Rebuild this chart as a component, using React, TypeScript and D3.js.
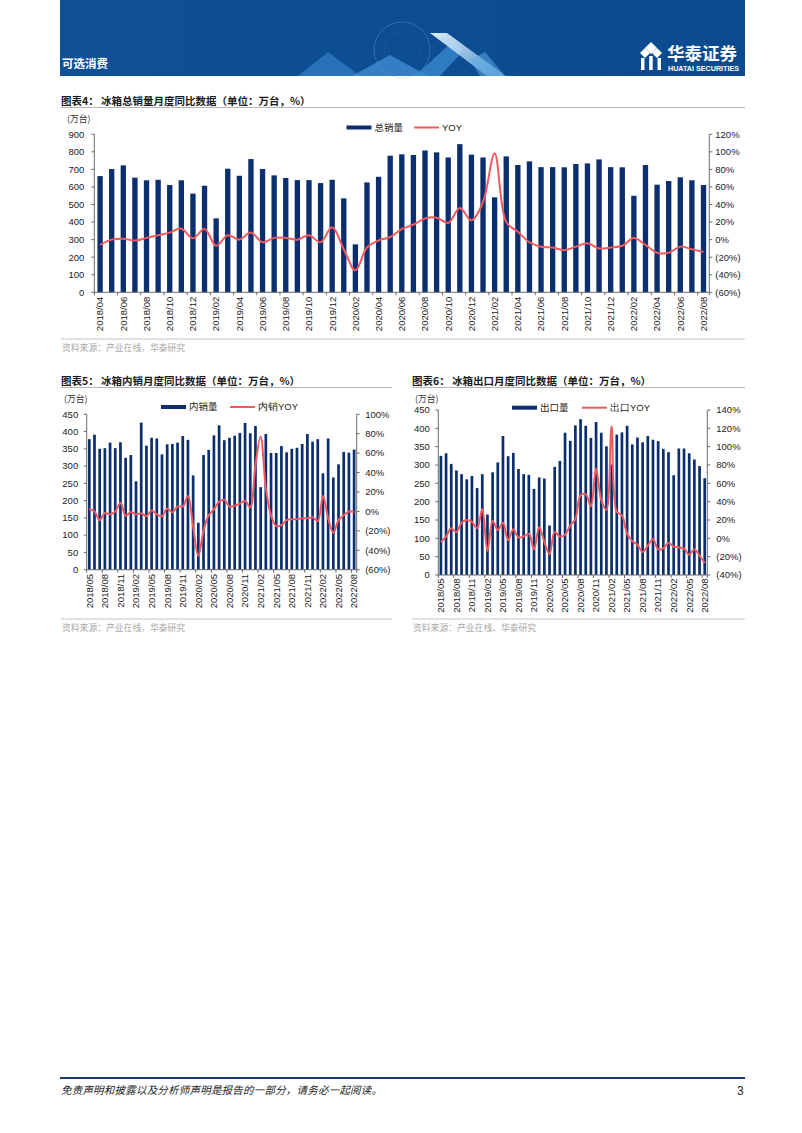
import React from "react";
import * as d3 from "d3";

// ---------- DATA ----------
const totalMonths = [
  "2018/04","2018/05","2018/06","2018/07","2018/08","2018/09","2018/10","2018/11","2018/12",
  "2019/01","2019/02","2019/03","2019/04","2019/05","2019/06","2019/07","2019/08","2019/09","2019/10","2019/11","2019/12",
  "2020/01","2020/02","2020/03","2020/04","2020/05","2020/06","2020/07","2020/08","2020/09","2020/10","2020/11","2020/12",
  "2021/01","2021/02","2021/03","2021/04","2021/05","2021/06","2021/07","2021/08","2021/09","2021/10","2021/11","2021/12",
  "2022/01","2022/02","2022/03","2022/04","2022/05","2022/06","2022/07","2022/08",
];
const totalSales = [
  662,702,723,653,638,641,611,638,562,607,421,704,664,759,702,666,651,639,639,622,
  641,535,273,626,658,778,786,782,808,797,768,844,784,768,541,774,725,746,713,713,
  712,731,734,757,713,712,550,725,613,634,655,638,611,
];
const totalYoy = [
  -6,0,1,-1,2,5,8,12.5,1.5,12,-7,5,
  0,8,-3,2,2,0,5,-3,14,-11,-35,-9,-1,
  3,12,17,24,25,19,36,22,43,98,20,9,-3,-8,-9,-12,-8,-4,-10,-9,-7,2,-6,-15,-15,-8,-11,-14,
];
const totalLeftTicks = [0,100,200,300,400,500,600,700,800,900];
const totalRightTicks = [-60,-40,-20,0,20,40,60,80,100,120];

const months52 = [
  "2018/05","2018/06","2018/07","2018/08","2018/09","2018/10","2018/11","2018/12",
  "2019/01","2019/02","2019/03","2019/04","2019/05","2019/06","2019/07","2019/08","2019/09","2019/10","2019/11","2019/12",
  "2020/01","2020/02","2020/03","2020/04","2020/05","2020/06","2020/07","2020/08","2020/09","2020/10","2020/11","2020/12",
  "2021/01","2021/02","2021/03","2021/04","2021/05","2021/06","2021/07","2021/08","2021/09","2021/10","2021/11","2021/12",
  "2022/01","2022/02","2022/03","2022/04","2022/05","2022/06","2022/07","2022/08",
];
const domesticSales = [
  378,391,350,352,368,352,369,324,332,256,426,359,382,380,334,363,364,368,387,376,
  273,136,332,347,389,418,375,382,388,396,425,395,416,239,393,338,338,358,340,350,
  353,364,393,371,378,279,380,267,305,341,339,348,
];
const domesticYoy = [
  2.5,0,-9,-1.5,-3,0,9,-4.5,-0.5,-3,-2,-5,
  1,-3,-5,3,-1,5,5,16,-16,-46,-20,-4,
  2,10,12,5,6,8,11,4,48,77,24,-4,-15,-14,-9,-8,-8,-7,-7,-6,-10,16,-7,-22,-9,-4,0,-1,
];
const exportSales = [
  325,332,303,285,275,261,270,237,275,165,280,307,379,324,333,289,275,273,235,266,
  263,135,295,311,388,366,408,425,407,374,417,388,351,301,383,389,407,356,375,362,
  379,369,365,344,335,272,345,345,332,315,297,264,
];
const exportYoy = [
  -4,2,11,7,17,20,18,11,32,-14,19,9,17,-2,10,1,2,5,-12,12,
  -4,-17,7,2,4,14,21,47,48,35,76,42,31,122,29,25,5,-3,-7,-15,
  -8,-1,-12,-11,-5,-9,-10,-11,-18,-12,-19,-27,
];
const leftTicks450 = [0,50,100,150,200,250,300,350,400,450];
const domesticRightTicks = [-60,-40,-20,0,20,40,60,80,100];
const exportRightTicks = [-40,-20,0,20,40,60,80,100,120,140];

// ---------- STYLE ----------
const NAVY = "#0b2e6e";
const RED = "#f25a5e";
const CJK = "'Noto Sans CJK SC', 'Noto Sans', sans-serif";
const LAT = "'Liberation Sans', Arial, sans-serif";
const AXIS = "#6b6b6b";

type ChartProps = {
  categories: string[];
  bars: number[];
  yoy: number[];
  leftTicks: number[];
  rightTicks: number[];
  x0: number; x1: number; yTop: number; yBottom: number;
  labelEvery: number; barRatio: number;
  barLegend: string; lineLegend: string;
  legendBarX: number; legendLineX: number; legendY: number;
  leftGap: number; rightGap: number; xLabelGap: number;
};

function fmtPct(v: number) {
  return v < 0 ? `(${-v}%)` : `${v}%`;
}

function ComboChart(p: ChartProps) {
  const x = d3.scaleBand<string>().domain(p.categories).range([p.x0, p.x1]);
  const bw = x.bandwidth();
  const yL = d3.scaleLinear().domain(d3.extent(p.leftTicks) as [number, number]).range([p.yBottom, p.yTop]);
  const yR = d3.scaleLinear().domain(d3.extent(p.rightTicks) as [number, number]).range([p.yBottom, p.yTop]);
  const cx = (c: string) => (x(c) as number) + bw / 2;
  const line = d3
    .line<number>()
    .x((_, i) => cx(p.categories[i]))
    .y((v) => yR(v))
    .curve(d3.curveCatmullRom.alpha(0.5));
  const barW = bw * p.barRatio;
  const boundaries: number[] = [];
  for (let k = 0; k < p.categories.length; k += p.labelEvery) boundaries.push(p.x0 + k * bw);
  boundaries.push(p.x1);

  return (
    <g>
      {/* bars */}
      {p.bars.map((v, i) => {
        const c = p.categories[i];
        return (
          <rect key={c} x={cx(c) - barW / 2} y={yL(v)} width={barW} height={p.yBottom - yL(v)} fill={NAVY} />
        );
      })}
      {/* axes */}
      <line x1={p.x0} x2={p.x0} y1={p.yTop} y2={p.yBottom} stroke={AXIS} strokeWidth={1} />
      <line x1={p.x1} x2={p.x1} y1={p.yTop} y2={p.yBottom} stroke={AXIS} strokeWidth={1} />
      <line x1={p.x0} x2={p.x1} y1={p.yBottom} y2={p.yBottom} stroke={AXIS} strokeWidth={1} />
      {p.leftTicks.map((t) => (
        <g key={"l" + t}>
          <line x1={p.x0 - 3} x2={p.x0} y1={yL(t)} y2={yL(t)} stroke={AXIS} />
          <text x={p.x0 - p.leftGap} y={yL(t)} dy="0.35em" textAnchor="end" fontFamily={LAT} fontSize={9.5} fill="#222">
            {t}
          </text>
        </g>
      ))}
      {p.rightTicks.map((t) => (
        <g key={"r" + t}>
          <line x1={p.x1} x2={p.x1 + 3} y1={yR(t)} y2={yR(t)} stroke={AXIS} />
          <text x={p.x1 + p.rightGap} y={yR(t)} dy="0.35em" textAnchor="start" fontFamily={LAT} fontSize={9.5} fill="#222">
            {fmtPct(t)}
          </text>
        </g>
      ))}
      {boundaries.map((b, i) => (
        <line key={"b" + i} x1={b} x2={b} y1={p.yBottom} y2={p.yBottom + 3} stroke={AXIS} />
      ))}
      {p.categories.map((c, i) =>
        i % p.labelEvery === 0 ? (
          <text
            key={"x" + c}
            transform={`translate(${cx(c)},${p.yBottom + p.xLabelGap}) rotate(-90)`}
            textAnchor="end"
            dy="0.35em"
            fontFamily={LAT}
            fontSize={9.5}
            fill="#222"
          >
            {c}
          </text>
        ) : null
      )}
      {/* line */}
      <path d={line(p.yoy) || ""} fill="none" stroke={RED} strokeWidth={2} strokeLinejoin="round" />
      {/* legend */}
      <rect x={p.legendBarX} y={p.legendY - 2} width={25} height={4} fill={NAVY} />
      <text x={p.legendBarX + 28} y={p.legendY} dy="0.35em" fontFamily={CJK} fontSize={9.5} fill="#222">
        {p.barLegend}
      </text>
      <line x1={p.legendLineX} x2={p.legendLineX + 25} y1={p.legendY} y2={p.legendY} stroke={RED} strokeWidth={2} />
      <text x={p.legendLineX + 28} y={p.legendY} dy="0.35em" fontFamily={LAT} fontSize={9.5} fill="#222">
        {p.lineLegend.replace("YOY", "")}
        <tspan fontFamily={LAT}>YOY</tspan>
      </text>
    </g>
  );
}

function Title({ x, y, num, body, lineX2 }: { x: number; y: number; num: string; body: string; lineX2: number }) {
  return (
    <g>
      <text x={x} y={y} fontFamily={CJK} fontWeight={700} fontSize={10.5} fill="#1a1a1a">
        {`图表${num}：`}
      </text>
      <text x={x + 40} y={y} fontFamily={CJK} fontWeight={700} fontSize={10.5} fill="#1a1a1a">
        {body}
      </text>
      <line x1={x} x2={lineX2} y1={y + 2.5} y2={y + 2.5} stroke="#b5b5b5" strokeWidth={1} />
    </g>
  );
}

function Source({ x, y, x2 }: { x: number; y: number; x2: number }) {
  return (
    <g>
      <line x1={x} x2={x2} y1={y} y2={y} stroke="#c4c4c4" strokeWidth={1} />
      <text x={x + 1} y={y + 12} fontFamily={CJK} fontSize={8.8} fill="#a8a8a8">
        资料来源：产业在线、华泰研究
      </text>
    </g>
  );
}

function Header() {
  return (
    <g>
      <defs>
        <linearGradient id="bannerGrad" x1="0" x2="1" y1="0" y2="0">
          <stop offset="0" stopColor="#0f5096" />
          <stop offset="1" stopColor="#0b4a8e" />
        </linearGradient>
        <linearGradient id="stripeGrad" x1="0" x2="1" y1="0" y2="1">
          <stop offset="0" stopColor="#e8f4fd" stopOpacity={0.95} />
          <stop offset="1" stopColor="#7fc0f0" stopOpacity={0.6} />
        </linearGradient>
      </defs>
      <rect x={60} y={0} width={685} height={76} fill="url(#bannerGrad)" />
      {/* decorative mountains */}
      <circle cx={402} cy={50} r={28} fill="none" stroke="#7cb8e8" strokeOpacity={0.3} />
      <circle cx={402} cy={50} r={18} fill="none" stroke="#7cb8e8" strokeOpacity={0.2} strokeDasharray="1 2" />
      <polygon points="298,76 328,52 360,76" fill="#3c8fd8" fillOpacity={0.55} />
      <polygon points="352,76 390,55 428,76" fill="#4ea2e6" fillOpacity={0.6} />
      <polygon points="415,76 452,42 464,50 440,76" fill="#3b8bd2" fillOpacity={0.75} />
      <polygon points="430,33 447,33 506,76 487,76" fill="url(#stripeGrad)" />
      <polygon points="470,60 485,52 505,76 480,76" fill="#5eaeea" fillOpacity={0.5} />
      <text x={62} y={67.5} fontFamily={CJK} fontWeight={700} fontSize={11.5} fill="#fff">
        可选消费
      </text>
      {/* logo */}
      <g fill="#fff">
        <polygon points="645,48 651,42 657,48 651,54" />
        <polygon points="640,53 645,48 650,53 645,58" />
        <polygon points="652,53 657,48 662,53 657,58" />
        <rect x={641} y={58} width={3.5} height={12} />
        <rect x={649.2} y={56} width={3.5} height={14} />
        <rect x={657.5} y={58} width={3.5} height={12} />
      </g>
      <text x={667} y={60} fontFamily={CJK} fontWeight={700} fontSize={17.5} fill="#fff">
        华泰证券
      </text>
      <text x={668} y={70.5} fontFamily={LAT} fontWeight={700} fontSize={6.4} fill="#fff" textLength={71} lengthAdjust="spacingAndGlyphs">
        HUATAI SECURITIES
      </text>
    </g>
  );
}

export default function App() {
  return (
    <svg
      width={802}
      height={1133}
      viewBox="0 0 802 1133"
      style={{ position: "absolute", left: 0, top: 0, background: "#fff" }}
    >
      <rect x={0} y={0} width={802} height={1133} fill="#fff" />
      <Header />

      {/* Chart 4 */}
      <Title x={61} y={105} num="4" body="冰箱总销量月度同比数据（单位：万台，%）" lineX2={745} />
      <text x={67} y={122} fontFamily={CJK} fontSize={8.8} fill="#333">(万台)</text>
      <ComboChart
        categories={totalMonths}
        bars={totalSales}
        yoy={totalYoy}
        leftTicks={totalLeftTicks}
        rightTicks={totalRightTicks}
        x0={94.3} x1={709.3} yTop={134.3} yBottom={292.3}
        labelEvery={2} barRatio={0.46}
        barLegend="总销量" lineLegend="YOY"
        legendBarX={346.5} legendLineX={414} legendY={127.5}
        leftGap={10} rightGap={6} xLabelGap={4.5}
      />
      <Source x={61} y={339} x2={745} />

      {/* Chart 5 */}
      <Title x={61} y={385} num="5" body="冰箱内销月度同比数据（单位：万台，%）" lineX2={392} />
      <text x={64} y={402} fontFamily={CJK} fontSize={8.8} fill="#333">(万台)</text>
      <ComboChart
        categories={months52}
        bars={domesticSales}
        yoy={domesticYoy}
        leftTicks={leftTicks450}
        rightTicks={domesticRightTicks}
        x0={86.7} x1={356.7} yTop={414.3} yBottom={569.7}
        labelEvery={3} barRatio={0.52}
        barLegend="内销量" lineLegend="内销YOY"
        legendBarX={161} legendLineX={230} legendY={407}
        leftGap={8.5} rightGap={8.5} xLabelGap={4.3}
      />
      <Source x={61} y={619} x2={392} />

      {/* Chart 6 */}
      <Title x={412} y={385} num="6" body="冰箱出口月度同比数据（单位：万台，%）" lineX2={745} />
      <text x={415} y={402} fontFamily={CJK} fontSize={8.8} fill="#333">(万台)</text>
      <ComboChart
        categories={months52}
        bars={exportSales}
        yoy={exportYoy}
        leftTicks={leftTicks450}
        rightTicks={exportRightTicks}
        x0={438.3} x1={707.3} yTop={410} yBottom={575}
        labelEvery={3} barRatio={0.52}
        barLegend="出口量" lineLegend="出口YOY"
        legendBarX={512} legendLineX={582} legendY={407.7}
        leftGap={8.5} rightGap={9} xLabelGap={3.5}
      />
      <Source x={412} y={619} x2={745} />

      {/* Footer */}
      <line x1={60} x2={745} y1={1078} y2={1078} stroke="#1d3a6b" strokeWidth={2} />
      <text x={61} y={1094} fontFamily={CJK} fontStyle="italic" fontSize={10.5} fill="#222" textLength={321} lengthAdjust="spacing">
        免责声明和披露以及分析师声明是报告的一部分，请务必一起阅读。
      </text>
      <text x={737} y={1095} fontFamily={LAT} fontSize={12} fill="#222">3</text>
    </svg>
  );
}
